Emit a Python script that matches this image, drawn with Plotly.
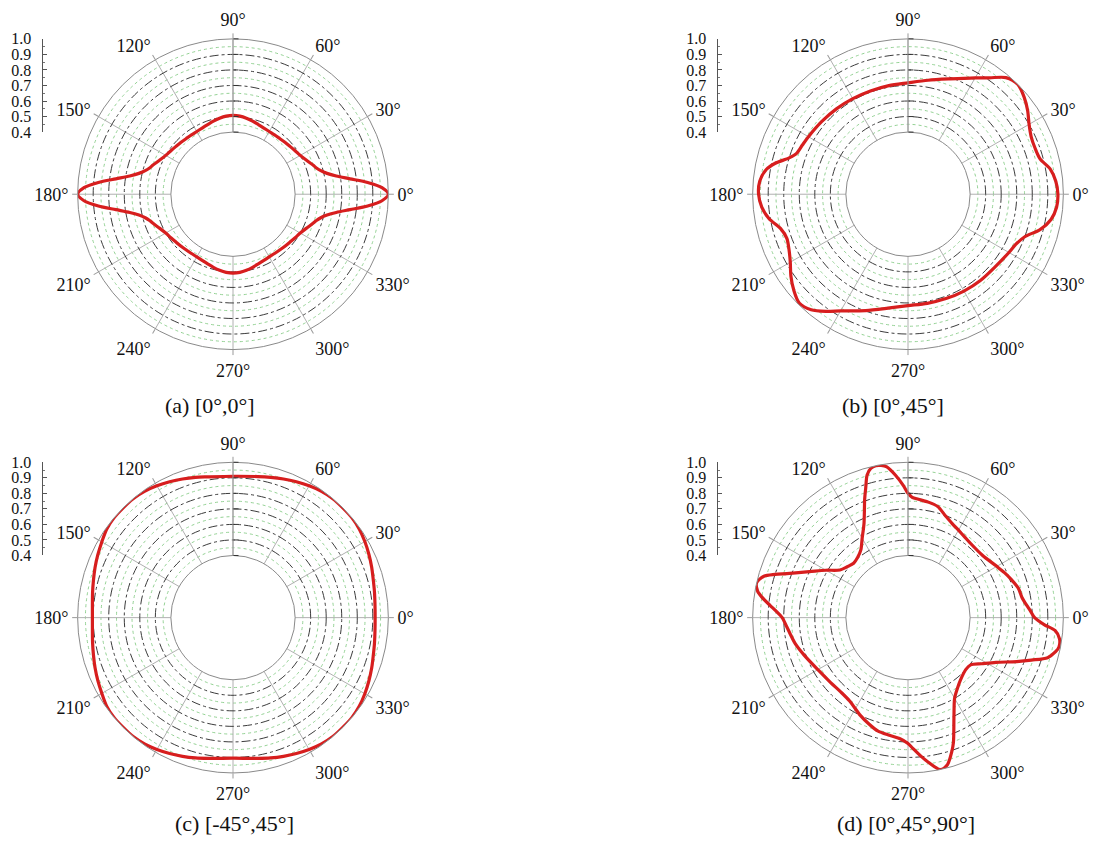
import plotly.graph_objects as go

# ---------------- data: normalised polar response of each laminate ----------------
theta_a = [0, 2.5, 5, 7.5, 10, 12.5, 15, 17.5, 20, 25, 30, 35, 40, 45, 50, 55, 60, 65, 70, 75, 80, 85, 90,
           95, 100, 105, 110, 115, 120, 125, 130, 135, 140, 145, 150, 155, 160, 162.5, 165, 167.5, 170,
           172.5, 175, 177.5, 180,
           182.5, 185, 187.5, 190, 192.5, 195, 197.5, 200, 205, 210, 215, 220, 225, 230, 235, 240, 245,
           250, 255, 260, 265, 270,
           275, 280, 285, 290, 295, 300, 305, 310, 315, 320, 325, 330, 335, 340, 342.5, 345, 347.5, 350,
           352.5, 355, 357.5, 360]
r_a = [1.00, 0.96, 0.87, 0.76, 0.675, 0.62, 0.585, 0.563, 0.548, 0.52, 0.50, 0.488, 0.479, 0.473, 0.468,
       0.466, 0.466, 0.47, 0.477, 0.487, 0.497, 0.505, 0.508,
       0.505, 0.497, 0.487, 0.477, 0.47, 0.466, 0.466, 0.468, 0.473, 0.479, 0.488, 0.50, 0.52, 0.548,
       0.563, 0.585, 0.62, 0.675, 0.76, 0.87, 0.96, 1.00,
       0.96, 0.87, 0.76, 0.675, 0.62, 0.585, 0.563, 0.548, 0.52, 0.50, 0.488, 0.479, 0.473, 0.468,
       0.466, 0.466, 0.47, 0.477, 0.487, 0.497, 0.505, 0.508,
       0.505, 0.497, 0.487, 0.477, 0.47, 0.466, 0.466, 0.468, 0.473, 0.479, 0.488, 0.50, 0.52, 0.548,
       0.563, 0.585, 0.62, 0.675, 0.76, 0.87, 0.96, 1.00]

theta_b = [0, 5, 10, 15, 20, 25, 30, 35, 40, 45, 50, 55, 60, 70, 80, 90, 100, 110, 120, 130, 140,
           150, 155, 160, 163, 167, 170, 175, 180, 185, 190, 195, 200, 205, 210, 215, 220, 225,
           230, 235, 240, 250, 260, 270, 280, 290, 300, 310, 320, 330, 335, 340, 345, 350, 355, 360]
r_b = [0.965, 0.955, 0.93, 0.88, 0.87, 0.875, 0.90, 0.94, 0.975, 1.00, 0.98, 0.915, 0.865, 0.79, 0.745,
       0.717, 0.71, 0.707, 0.71, 0.717, 0.726, 0.74, 0.75, 0.765, 0.80, 0.88, 0.925, 0.958, 0.962,
       0.945, 0.908, 0.85, 0.83, 0.845, 0.875, 0.92, 0.96, 0.99, 0.97, 0.92, 0.867, 0.797, 0.745,
       0.717, 0.713, 0.715, 0.72, 0.725, 0.73, 0.75, 0.765, 0.80, 0.88, 0.935, 0.96, 0.965]

theta_c = [0, 10, 15, 20, 25, 30, 35, 40, 45, 50, 55, 60, 65, 70, 75, 80, 90,
           100, 105, 110, 115, 120, 125, 130, 135, 140, 145, 150, 155, 160, 165, 170, 180,
           190, 195, 200, 205, 210, 215, 220, 225, 230, 235, 240, 245, 250, 255, 260, 270,
           280, 285, 290, 295, 300, 305, 310, 315, 320, 325, 330, 335, 340, 345, 350, 360]
r_c = [0.915, 0.925, 0.935, 0.95, 0.965, 0.98, 0.993, 1.0, 1.0, 1.0, 0.993, 0.98, 0.965, 0.95, 0.935, 0.922, 0.91,
       0.92, 0.935, 0.95, 0.965, 0.98, 0.993, 1.0, 1.0, 1.0, 0.993, 0.975, 0.96, 0.945, 0.93, 0.918, 0.905,
       0.918, 0.93, 0.945, 0.96, 0.975, 0.993, 1.0, 1.0, 1.0, 0.993, 0.98, 0.965, 0.95, 0.935, 0.92, 0.905,
       0.92, 0.935, 0.95, 0.965, 0.98, 0.993, 1.0, 1.0, 1.0, 0.993, 0.98, 0.965, 0.95, 0.935, 0.925, 0.915]

theta_d = [0, 3, 5, 8, 10, 15, 20, 25, 30, 40, 50, 55, 60, 65, 70, 75, 80, 85, 88, 90, 92, 95, 98,
           100, 102, 104, 106, 108, 110, 115, 120, 125, 130, 135, 140, 145, 150, 155, 160, 162, 164,
           167, 170, 172, 175, 177, 180, 183, 188, 193, 200, 210, 220, 228, 235, 244, 250, 255, 261,
           266, 270, 272, 275, 278, 282, 285, 288, 290, 295, 300, 305, 310, 318, 323, 328, 333, 338,
           341, 344, 347, 349, 352, 355, 357, 360]
r_d = [0.815, 0.79, 0.775, 0.755, 0.745, 0.735, 0.71, 0.685, 0.66, 0.625, 0.625, 0.635, 0.65, 0.67, 0.70,
       0.74, 0.755, 0.765, 0.775, 0.80, 0.85, 0.92, 0.98, 0.995, 1.0, 0.99, 0.955, 0.88, 0.815, 0.67,
       0.59, 0.53, 0.505, 0.495, 0.51, 0.535, 0.61, 0.70, 0.83, 0.90, 0.965, 1.0, 0.983, 0.95, 0.89,
       0.853, 0.81, 0.79, 0.765, 0.745, 0.71, 0.67, 0.65, 0.645, 0.655, 0.70, 0.73, 0.755, 0.767, 0.78,
       0.81, 0.84, 0.89, 0.94, 1.0, 0.98, 0.91, 0.855, 0.70, 0.60, 0.555, 0.525, 0.50, 0.505, 0.56,
       0.635, 0.755, 0.84, 0.935, 0.975, 0.99, 0.985, 0.95, 0.88, 0.815]

captions = ["(a) [0°,0°]", "(b) [0°,45°]", "(c) [-45°,45°]", "(d) [0°,45°,90°]"]
major_r = [0.4, 0.5, 0.6, 0.7, 0.8, 0.9, 1.0]
minor_r = [0.45, 0.55, 0.65, 0.75, 0.85, 0.95]
radial_labels = ["0.4", "0.5", "0.6", "0.7", "0.8", "0.9", "1.0"]
angle_ticks = [0, 30, 60, 90, 120, 150, 180, 210, 240, 270, 300, 330]
angle_labels = [f"{a}°" for a in angle_ticks]

series = [(theta_a, r_a), (theta_b, r_b), (theta_c, r_c), (theta_d, r_d)]

# ---------------- layout geometry (pixels) ----------------
W, H = 1093, 855
R_PX = 158.5
centers = [(233, 190), (908, 190), (233, 622), (908, 622)]
caption_pos = [(210, 406), (893, 406), (234, 832), (906, 832)]
AXIS_OFFSET = 190.5   # radial scale bar sits left of each polar plot

FONT = "Liberation Serif"
TEXT = "#111"
RED = "#d71e1e"

fig = go.Figure()
layout = dict(width=W, height=H, margin=dict(l=0, r=0, t=0, b=0),
              paper_bgcolor="white", plot_bgcolor="white", showlegend=False,
              font=dict(family=FONT, size=17, color=TEXT))
annotations = []

for i, ((cx, cy), (th, rr)) in enumerate(zip(centers, series)):
    n = i + 1
    dom_x = [(cx - R_PX) / W, (cx + R_PX) / W]
    dom_y = [(H - cy - R_PX) / H, (H - cy + R_PX) / H]

    # background polar: light green minor circles
    minor_id = "polar" if n == 1 else f"polar{n}"
    layout[minor_id] = dict(
        domain=dict(x=dom_x, y=dom_y), hole=0.4, bgcolor="white",
        radialaxis=dict(range=[0.4, 1.0], tickvals=minor_r, showticklabels=False, ticks="",
                        showline=False, gridcolor="#94d294", griddash="dot", gridwidth=1),
        angularaxis=dict(rotation=0, direction="counterclockwise", showticklabels=False,
                         ticks="", showgrid=False, showline=False),
    )
    fig.add_trace(go.Scatterpolar(r=[None], theta=[None], mode="lines",
                                  hoverinfo="skip", subplot=minor_id))

    # main polar with the response curve
    main_id = f"polar{n + 4}"
    layout[main_id] = dict(
        domain=dict(x=dom_x, y=dom_y), hole=0.4, bgcolor="rgba(0,0,0,0)",
        radialaxis=dict(range=[0.4, 1.0], tickvals=major_r, showticklabels=False,
                        ticks="outside", ticklen=5, tickcolor="#333", tickwidth=1.2,
                        showline=True, linecolor="#999", linewidth=1, angle=90,
                        gridcolor="#3c3c3c", griddash="dashdot", gridwidth=1),
        angularaxis=dict(rotation=0, direction="counterclockwise", tickmode="array",
                         tickvals=angle_ticks, ticktext=angle_labels,
                         showline=True, linecolor="#8a8a8a", linewidth=1,
                         gridcolor="#b0b0b0", gridwidth=1, ticks="outside", ticklen=5,
                         tickcolor="#999", tickfont=dict(family=FONT, size=18, color=TEXT)),
    )
    fig.add_trace(go.Scatterpolar(r=rr, theta=th, mode="lines",
                                  line=dict(color=RED, width=3.2, shape="spline", smoothing=0.8),
                                  hoverinfo="skip", subplot=main_id))

    # radial scale bar with tick labels
    ax_x = (cx - AXIS_OFFSET) / W
    layout[f"xaxis{n}"] = dict(domain=[ax_x, ax_x + 0.004], visible=False, range=[0, 1],
                               anchor=f"y{n}", fixedrange=True)
    layout[f"yaxis{n}"] = dict(
        domain=[(H - cy + 0.4 * R_PX) / H, (H - cy + R_PX) / H], anchor=f"x{n}", side="left",
        range=[0.4, 1.0], tickmode="array", tickvals=major_r, ticktext=radial_labels,
        ticks="inside", ticklen=4, tickcolor="#555", showline=True, linecolor="#555", linewidth=1,
        showgrid=False, zeroline=False, fixedrange=True, ticklabelstandoff=7,
        tickfont=dict(family=FONT, size=16, color=TEXT),
        minor=dict(tickvals=minor_r, ticks="inside", ticklen=2, tickcolor="#777"),
    )
    fig.add_trace(go.Scatter(x=[None], y=[None], xaxis=f"x{n}", yaxis=f"y{n}",
                             mode="lines", hoverinfo="skip"))

    px, py = caption_pos[i]
    annotations.append(dict(text=captions[i], x=px / W, y=(H - py) / H,
                            xref="paper", yref="paper", showarrow=False,
                            xanchor="center", yanchor="middle",
                            font=dict(family=FONT, size=22, color=TEXT)))

layout["annotations"] = annotations
fig.update_layout(**layout)
fig.write_html("out.html")
